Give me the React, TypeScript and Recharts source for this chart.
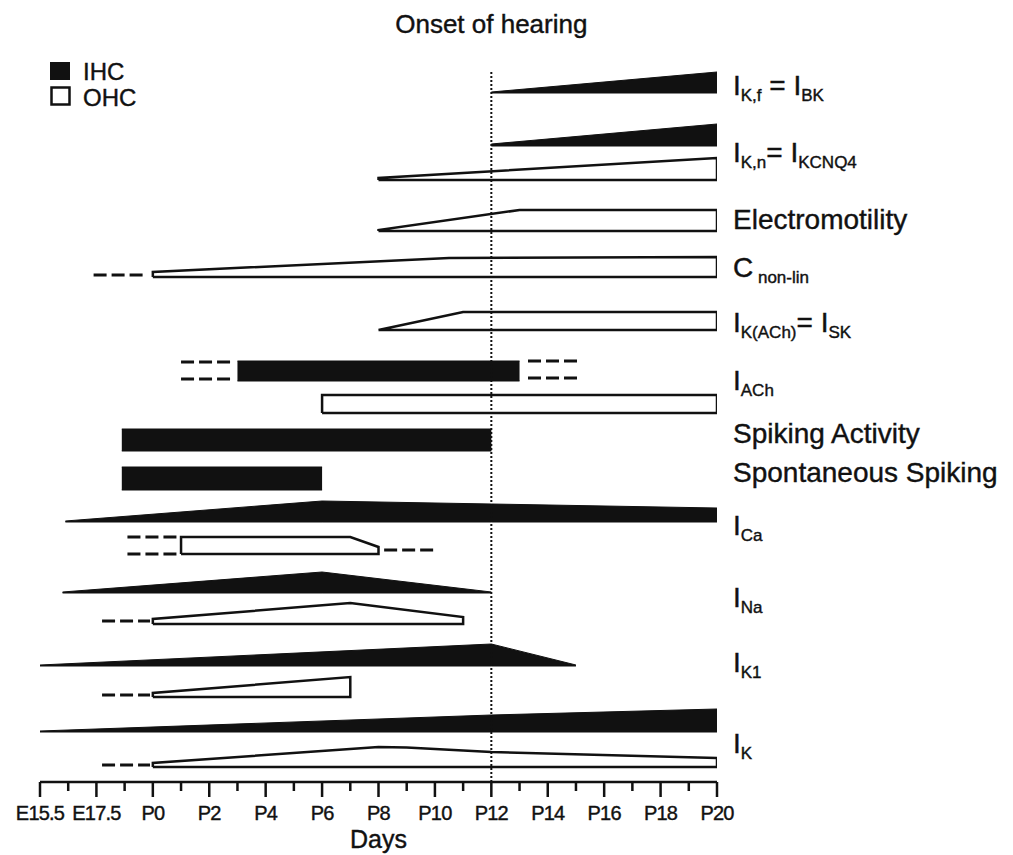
import React from 'react'
import { ComposedChart, Area, Line, XAxis, YAxis, ReferenceLine, ReferenceDot } from 'recharts'

const FONT = '"Liberation Sans", Arial, Helvetica, sans-serif'
const INK = '#111'

// days on the x axis: E15.5 -> -4, E17.5 -> -2, P0 -> 0 ... P20 -> 20
const dayTicks = [-4, -3, -2, -1, 0, 1, 2, 3, 4, 5, 6, 7, 8, 9, 10, 11, 12, 13, 14, 15, 16, 17, 18, 19, 20]
const labelDays = [-4, -2, 0, 2, 4, 6, 8, 10, 12, 14, 16, 18, 20]
const tickLabels = ['E15.5', 'E17.5', 'P0', 'P2', 'P4', 'P6', 'P8', 'P10', 'P12', 'P14', 'P16', 'P18', 'P20']
const onsetDay = 12

// IHC (filled) profiles: [day, lower level, upper level]
const ikfIHC = [[12, 689, 690], [20, 689, 710]]
const iknIHC = [[12, 636, 638], [20, 636, 658]]
const iachIHC = [[3, 401, 421], [13, 401, 421]]
const spikingIHC = [[-1.1, 331, 353], [12, 331, 353]]
const spontIHC = [[-1.1, 292, 315], [6, 292, 315]]
const icaIHC = [[-3.1, 260, 261], [6, 260, 281], [12, 260, 278], [20, 260, 274]]
const inaIHC = [[-3.2, 189, 190], [6, 189, 210], [12, 189, 190]]
const ik1IHC = [[-4, 116, 117], [12, 116, 138], [15, 116, 117]]
const ikIHC = [[-4, 50, 51], [12, 50, 67], [20, 50, 73]]

// OHC (open) outlines: [day, level], traced round the shape
const iknOHC = [[8, 602], [20, 602], [20, 624], [8, 604], [8, 602]]
const emOHC = [[8, 551], [20, 551], [20, 572], [13, 572], [8, 552], [8, 551]]
const cnlOHC = [[0, 505], [20, 505], [20, 525], [10.5, 524], [0, 510], [0, 505]]
const iskOHC = [[8, 452], [20, 452], [20, 470], [11, 470], [8, 452]]
const iachOHC = [[6, 369], [20, 369], [20, 387], [6, 387], [6, 369]]
const icaOHC = [[1, 228], [8, 228], [8, 235], [7, 245], [1, 245], [1, 228]]
const inaOHC = [[0, 158], [11, 158], [11, 165], [7, 179], [0, 163], [0, 158]]
const ik1OHC = [[0, 85], [7, 85], [7, 105], [0, 89], [0, 85]]
const ikOHC = [[0, 15], [20, 15], [20, 24], [12, 30], [9, 34.5], [8, 35], [0, 19], [0, 15]]

// dashed extensions: [day, level]
const cnlDash = [[-2.1, 507], [-0.3, 507]]
const iachDashL1 = [[1, 420], [2.8, 420]]
const iachDashL2 = [[1, 403], [2.8, 403]]
const iachDashR1 = [[13.3, 421], [15.1, 421]]
const iachDashR2 = [[13.3, 404], [15.1, 404]]
const icaDashL1 = [[-0.9, 245], [0.85, 245]]
const icaDashL2 = [[-0.9, 228], [0.85, 228]]
const icaDashR = [[8.2, 232], [10, 232]]
const inaDash = [[-1.8, 161], [-0.1, 161]]
const ik1Dash = [[-1.8, 87], [-0.1, 87]]
const ikDash = [[-1.8, 17], [-0.1, 17]]

// row labels: baseline level and [text, subscript?] pieces
const rowLabelLevels = [687, 620, 553, 505, 450, 392, 339, 300, 247, 175, 110, 29]
const rowLabels: [string, number][][] = [
  [['I', 0], ['K,f', 1], [' = ', 0], ['I', 0], ['BK', 1]],
  [['I', 0], ['K,n', 1], ['= ', 0], ['I', 0], ['KCNQ4', 1]],
  [['Electromotility', 0]],
  [['C', 0], [' non-lin', 1]],
  [['I', 0], ['K(ACh)', 1], ['= ', 0], ['I', 0], ['SK', 1]],
  [['I', 0], ['ACh', 1]],
  [['Spiking Activity', 0]],
  [['Spontaneous Spiking', 0]],
  [['I', 0], ['Ca', 1]],
  [['I', 0], ['Na', 1]],
  [['I', 0], ['K1', 1]],
  [['I', 0], ['K', 1]],
]

const ihcShapes = [ikfIHC, iknIHC, iachIHC, spikingIHC, spontIHC, icaIHC, inaIHC, ik1IHC, ikIHC]
const ohcShapes = [iknOHC, emOHC, cnlOHC, iskOHC, iachOHC, icaOHC, inaOHC, ik1OHC, ikOHC]
const dashLines = [cnlDash, iachDashL1, iachDashL2, iachDashR1, iachDashR2, icaDashL1, icaDashL2, icaDashR, inaDash, ik1Dash, ikDash]

const DayTick = ({ x, y, payload }: any) => {
  const d = payload.value
  const major = d % 2 === 0
  const idx = labelDays.indexOf(d)
  return (
    <g>
      <line x1={x} x2={x} y1={y} y2={y + (major ? 15 : 9)} stroke={INK} strokeWidth={2.5} />
      {idx >= 0 && (
        <text
          x={x}
          y={y + 38}
          textAnchor="middle"
          fontFamily={FONT}
          fontSize={20}
          letterSpacing={-0.8}
          fill={INK}
          stroke={INK}
          strokeWidth={0.4}
        >
          {tickLabels[idx]}
        </text>
      )}
    </g>
  )
}

const RowLabel = ({ viewBox, segs }: any) => {
  const x = viewBox.x + viewBox.width / 2 + 16
  const y = viewBox.y + viewBox.height / 2
  let sub = false
  return (
    <text x={x} y={y} fontFamily={FONT} fontSize={28} fill={INK} stroke={INK} strokeWidth={0.4} xmlSpace="preserve">
      {segs.map(([t, s]: [string, number], i: number) => {
        const isSub = s === 1
        const dy = isSub && !sub ? 6 : !isSub && sub ? -6 : 0
        sub = isSub
        return (
          <tspan key={i} dy={dy} fontSize={isSub ? 17 : 28}>
            {t}
          </tspan>
        )
      })}
    </text>
  )
}

const App = () => {
  return (
    <div style={{ position: 'absolute', left: 0, top: 0, width: 1013, height: 855, background: '#fff' }}>
      <ComposedChart width={1013} height={855} margin={{ top: 70, right: 296, left: 40, bottom: 0 }}>
        <XAxis
          dataKey="day"
          type="number"
          domain={[-4, 20]}
          ticks={dayTicks}
          interval={0}
          allowDataOverflow
          tick={<DayTick />}
          tickLine={false}
          tickSize={0}
          tickMargin={0}
          height={73}
          axisLine={{ stroke: INK, strokeWidth: 2.5 }}
          label={{ value: 'Days', position: 'insideBottom', offset: 7, fontSize: 25, fill: INK, fontFamily: FONT, stroke: INK, strokeWidth: 0.4 }}
        />
        <YAxis hide type="number" domain={[0, 712]} allowDataOverflow />
        {ihcShapes.map((s, i) => (
          <Area
            key={'ihc' + i}
            data={s.map(([day, lo, hi]) => ({ day, range: [lo, hi] }))}
            dataKey="range"
            type="linear"
            stroke={INK}
            strokeWidth={1}
            fill={INK}
            fillOpacity={1}
            dot={false}
            activeDot={false}
            isAnimationActive={false}
          />
        ))}
        {ohcShapes.map((s, i) => (
          <Line
            key={'ohc' + i}
            data={s.map(([day, v]) => ({ day, v }))}
            dataKey="v"
            type="linear"
            stroke={INK}
            strokeWidth={2.5}
            strokeLinejoin="miter"
            dot={false}
            activeDot={false}
            isAnimationActive={false}
          />
        ))}
        {dashLines.map((s, i) => (
          <Line
            key={'dash' + i}
            data={s.map(([day, v]) => ({ day, v }))}
            dataKey="v"
            type="linear"
            stroke={INK}
            strokeWidth={3}
            strokeDasharray="13 5"
            dot={false}
            activeDot={false}
            isAnimationActive={false}
          />
        ))}
        <ReferenceLine
          x={onsetDay}
          stroke={INK}
          strokeWidth={2}
          strokeDasharray="2 2"
          label={{ value: 'Onset of hearing', position: 'top', offset: 37, fontSize: 26, fill: INK, fontFamily: FONT, stroke: INK, strokeWidth: 0.4 }}
        />
        {rowLabels.map((segs, i) => (
          <ReferenceDot
            key={'lbl' + i}
            x={20}
            y={rowLabelLevels[i]}
            r={1}
            fill="none"
            stroke="none"
            ifOverflow="visible"
            label={<RowLabel segs={segs} />}
          />
        ))}
      </ComposedChart>
      <svg width={130} height={62} style={{ position: 'absolute', left: 45, top: 55 }}>
        <rect x={5} y={7} width={20} height={18} fill={INK} />
        <text x={38} y={25} fontFamily={FONT} fontSize={24} fill={INK} stroke={INK} strokeWidth={0.4}>IHC</text>
        <rect x={6.5} y={32.5} width={18} height={17} fill="#fff" stroke={INK} strokeWidth={2.5} />
        <text x={38} y={51} fontFamily={FONT} fontSize={24} fill={INK} stroke={INK} strokeWidth={0.4}>OHC</text>
      </svg>
    </div>
  )
}

export default App
